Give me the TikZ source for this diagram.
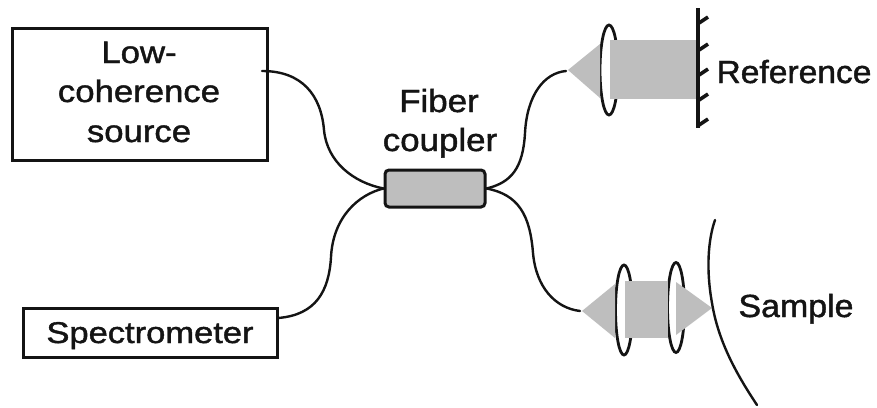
\documentclass[tikz,border=0pt]{standalone}
\usepackage{fontspec}
\setmainfont{Liberation Sans}
\newfontfamily\heavyfont[FakeBold=1.3]{Liberation Sans}
\usetikzlibrary{shapes.geometric}
\definecolor{beam}{HTML}{BEBEBE}
\definecolor{ink}{HTML}{141414}
\tikzset{
  boxnode/.style={draw=ink,line width=3pt,fill=white,inner sep=0pt},
  fiber/.style={draw=ink,line width=2.4pt,line cap=round},
  lens/.style={ellipse,draw=ink,line width=2.8pt,fill=white,inner sep=0pt},
  mirrorline/.style={draw=ink,line width=4.5pt},
  tick/.style={draw=ink,line width=3.6pt},
  label/.style={text=ink,anchor=base,inner sep=0pt}
}
\newcommand{\lbl}[3]{\scalebox{#2}[1]{\fontsize{#1}{#1}\selectfont\heavyfont #3}}
\begin{document}
\begin{tikzpicture}[x=1pt,y=-1pt]
\useasboundingbox[fill=white] (0,0) rectangle (877,407);
% boxes
\node[boxnode,minimum width=255pt,minimum height=132pt] (source) at (139.5,94) {};
\node[boxnode,minimum width=254pt,minimum height=49pt] (spec) at (150,332.5) {};
\node[boxnode,fill=beam,rounded corners=4pt,minimum width=100pt,minimum height=37pt] (coupler) at (435,188.5) {};
% labels
\node[label] (t1) at (139,63) {\lbl{31}{1.12}{Low-}};
\node[label] (t2) at (139,102) {\lbl{31}{1.12}{coherence}};
\node[label] (t3) at (139,142) {\lbl{31}{1.12}{source}};
\node[label] (t4) at (439,112) {\lbl{32}{1.09}{Fiber}};
\node[label] (t5) at (440,151) {\lbl{32}{1.09}{coupler}};
\node[label] (t6) at (150,343) {\lbl{30}{1.15}{Spectrometer}};
\node[label] (t7) at (794,83) {\lbl{32}{1.05}{Reference}};
\node[label] (t8) at (796,317) {\lbl{32}{1.06}{Sample}};
% fibre free ends
\coordinate (a) at (262,71);
\coordinate (am) at (324,130);
\coordinate (b) at (278,318);
\coordinate (bm) at (331,257);
\coordinate (c) at (566,71);
\coordinate (cm) at (525,133);
\coordinate (d) at (580,311);
\coordinate (dm) at (533,253);
\draw[fiber] (a) .. controls +(40,0) and +(-3,-35) .. (am) .. controls +(3,32) and +(-30,-6) .. (coupler.west);
\draw[fiber] (b) .. controls +(38,-3) and +(-2,34) .. (bm) .. controls +(2,-40) and +(-25,6) .. (coupler.west);
\draw[fiber] (coupler.east) .. controls +(25,-6) and +(-2,35) .. (cm) .. controls +(2,-38) and +(-22,2) .. (c);
\draw[fiber] (coupler.east) .. controls +(32,6) and +(-3,-38) .. (dm) .. controls +(3,34) and +(-25,-3) .. (d);
% reference arm
\node[lens,minimum width=18pt,minimum height=90pt] (l1) at (609,70) {};
\coordinate (t1a) at (568,70);
\fill[beam] (t1a) -- (600,44) -- (600,98) -- cycle;
\fill[beam] (610,40) rectangle (697,99);
\coordinate (m1) at (698,8);
\coordinate (m2) at (698,128);
\draw[mirrorline] (m1) -- (m2);
\foreach \y in {23,50,75,100,125}{
  \draw[tick] (699,\y) -- (708,\y-6);
}
% sample arm
\node[lens,minimum width=17pt,minimum height=90pt] (l2) at (624,310) {};
\node[lens,minimum width=17pt,minimum height=90pt] (l3) at (676,307.5) {};
\fill[beam] (582,311) -- (615,284) -- (615,338) -- cycle;
\fill[beam] (624.5,281) rectangle (667.5,338);
\fill[beam] (676,282) -- (712,308) -- (676,335) -- cycle;
\draw[fiber] (715,220) .. controls (708,240) and (706,270) .. (712,303) .. controls (718,340) and (735,372) .. (757,405);
\end{tikzpicture}
\end{document}
